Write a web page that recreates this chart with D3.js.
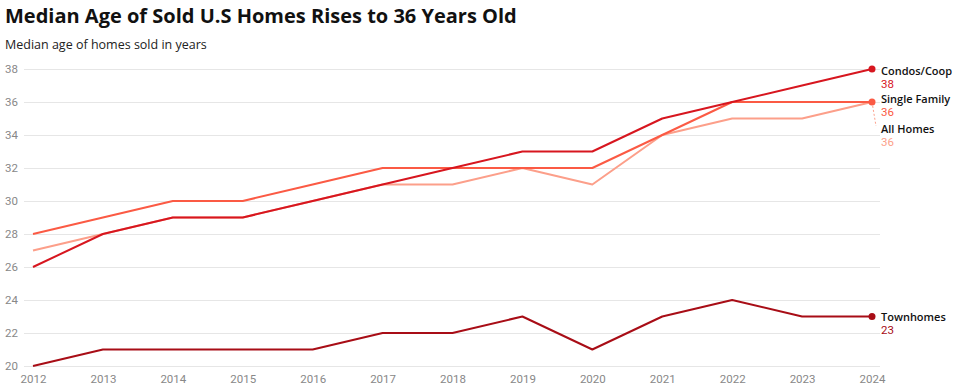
<!DOCTYPE html>
<html><head><meta charset="utf-8">
<script src="https://cdn.jsdelivr.net/npm/d3@7"></script>
<style>
body{margin:0;background:#fff;}
svg{display:block;font-family:"Open Sans",Roboto,sans-serif;}
</style></head>
<body>
<svg id="c" width="960" height="390"></svg>
<script>
const years = [2012,2013,2014,2015,2016,2017,2018,2019,2020,2021,2022,2023,2024];
const allHomes     = [27,28,29,29,30,31,31,32,31,34,35,35,36];
const singleFamily = [28,29,30,30,31,32,32,32,32,34,36,36,36];
const condosCoop   = [26,28,29,29,30,31,32,33,33,35,36,37,38];
const townhomes    = [20,21,21,21,21,22,22,23,21,23,24,23,23];
const yTicks = [20,22,24,26,28,30,32,34,36,38];
const seriesNames = ["All Homes","Single Family","Condos/Coop","Townhomes"];
const seriesColors = ["#fc9f8a","#fb5a44","#d7161f","#a80d16"];
const seriesValues = [allHomes, singleFamily, condosCoop, townhomes];

const svg = d3.select("#c");
svg.append("text").attr("x",5).attr("y",23).attr("font-size",20).attr("font-weight",700)
  .attr("fill","#111").text("Median Age of Sold U.S Homes Rises to 36 Years Old");
svg.append("text").attr("x",5).attr("y",49).attr("font-size",12.5).attr("fill","#222")
  .text("Median age of homes sold in years");

const x = d3.scalePoint().domain(years).range([33,872]);
const y = d3.scaleLinear().domain([20,38]).range([366,69]);

const gy = svg.append("g").attr("transform","translate(24,0)")
  .call(d3.axisLeft(y).tickValues(yTicks).tickSize(-856).tickPadding(6).tickFormat(d3.format("d")));
gy.select(".domain").remove();
gy.selectAll(".tick line").attr("stroke","#e6e6e6");
gy.selectAll(".tick text").attr("x",-19).attr("text-anchor","start").attr("fill","#888").attr("font-size",11.5).attr("font-family","Roboto,sans-serif");

const gx = svg.append("g").attr("transform","translate(0,366)")
  .call(d3.axisBottom(x).tickSize(0).tickPadding(9));
gx.select(".domain").remove();
gx.selectAll(".tick text").attr("fill","#888").attr("font-size",11.5).attr("font-family","Roboto,sans-serif");

const line = d3.line().x((d,i)=>x(years[i])).y(d=>y(d));
seriesValues.forEach((vals,k)=>{
  svg.append("path").datum(vals).attr("d",line).attr("fill","none")
    .attr("stroke",seriesColors[k]).attr("stroke-width",2).attr("stroke-linejoin","round");
});

// leader line for All Homes
svg.append("line").attr("x1",x(2024)).attr("y1",y(36)).attr("x2",x(2024)+4).attr("y2",y(36)+24)
  .attr("stroke",seriesColors[0]).attr("stroke-width",1).attr("stroke-dasharray","2,2");

const last = years.length-1;
const labelOffsets = [27,-3,1.5,0];
[0,1,2,3].forEach(k=>{
  const vals = seriesValues[k];
  const cy = y(vals[last]);
  if(k!==0){
    svg.append("circle").attr("cx",x(years[last])).attr("cy",cy).attr("r",3.5).attr("fill",seriesColors[k]);
  }
  const ly = cy + labelOffsets[k];
  svg.append("text").attr("x",881).attr("y",ly+4).attr("font-size",11).attr("font-weight",600)
    .attr("fill","#111").text(seriesNames[k]);
  svg.append("text").attr("x",881).attr("y",ly+17).attr("font-size",11.5).attr("fill",seriesColors[k])
    .attr("font-family","Roboto,sans-serif").text(vals[last]);
});
</script>
</body></html>
